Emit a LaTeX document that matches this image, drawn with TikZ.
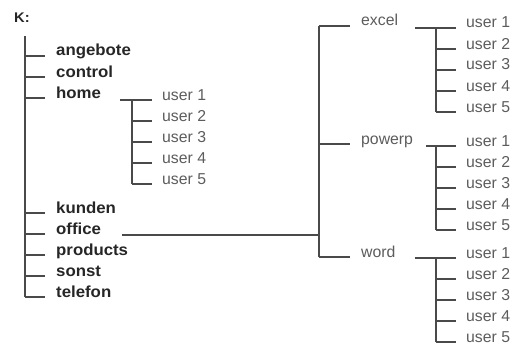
\documentclass[tikz,border=0pt]{standalone}
\usepackage{fontspec}
\setmainfont{Liberation Sans}
\newfontfamily\widebold[FakeStretch=1.05]{Liberation Sans Bold}
\usetikzlibrary{positioning}
\definecolor{inkdark}{HTML}{262626}
\definecolor{inkgrey}{HTML}{5C5C5C}
\definecolor{lineink}{HTML}{4A4A4A}

\begin{document}
\begin{tikzpicture}[
  x=1pt,y=-1pt,
  folder/.style={anchor=base west,inner sep=0pt,font=\fontsize{16}{18}\widebold,text=inkdark},
  subfolder/.style={anchor=base west,inner sep=0pt,font=\fontsize{15.8}{18}\selectfont,text=inkgrey},
  branch/.style={draw=lineink,line width=1.1pt}
]
\useasboundingbox (0,0) rectangle (516,345);

% drive and its folders
\node[anchor=base west,inner sep=0pt,font=\fontsize{14}{16}\widebold,text=inkdark] (drive) at (14,23) {K:};
\coordinate (trunk) at (25,36);
\foreach \name/\y in {angebote/56,control/77,home/98,kunden/213,office/234,products/255,sonst/276,telefon/297}{
  \node[folder] (\name) at (56,\y) {\name};
  \draw[branch] (trunk |- \name.base) -- ([xshift=-11pt]\name.base west);
}
\draw[branch] (trunk) -- (trunk |- telefon.base);

% office programs
\coordinate (hub) at (319,235);
\foreach \name/\y in {excel/26,powerp/144,word/257}{
  \node[subfolder] (\name) at (361,\y) {\name};
  \draw[branch] (hub |- \name.base) -- ([xshift=-11pt]\name.base west);
}
\draw[branch] (hub |- excel.base) -- (hub |- word.base);
\draw[branch] ([xshift=21pt,yshift=-1pt]office.base east) -- (hub);

% user folders below home, excel, powerp, word
\foreach \parent/\ux/\uy/\gap in {home/162/100/19,excel/466/28/17,powerp/466/146/13,word/466/258/19}{
  \foreach \i in {1,...,5}{
    \node[subfolder] (\parent-\i) at (\ux,\uy+21*\i-21) {user \i};
    \draw[branch] ([xshift=-30pt]\parent-\i.base west) -- ([xshift=-10pt]\parent-\i.base west);
  }
  \draw[branch] ([xshift=-30pt]\parent-1.base west) -- ([xshift=-30pt]\parent-5.base west);
  \draw[branch] ([xshift=\gap pt]\parent.base east |- \parent-1.base) -- ([xshift=-10pt]\parent-1.base west);
}
\end{tikzpicture}
\end{document}
